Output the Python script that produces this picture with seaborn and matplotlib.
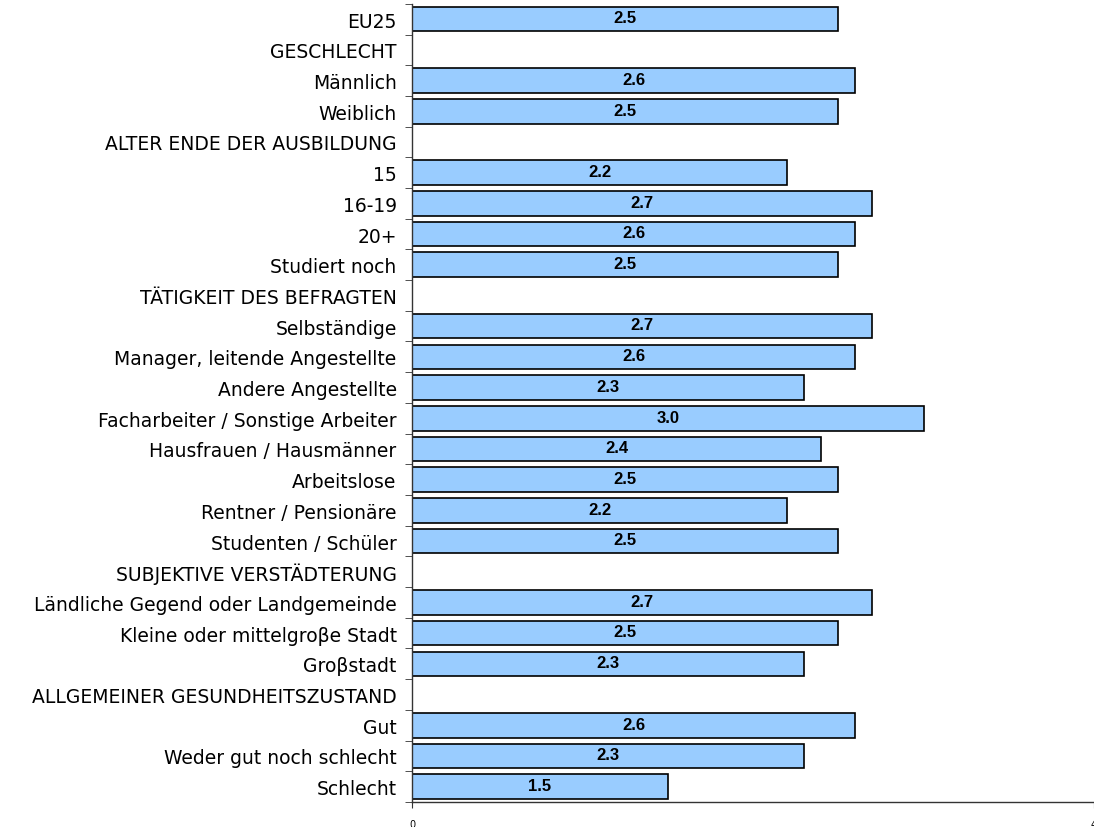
import seaborn as sns
import matplotlib.pyplot as plt
import numpy as np
import pandas as pd

# Kategorien (Überschriften ohne Wert)
kategorien = [
    'EU25', 'GESCHLECHT', 'Männlich', 'Weiblich',
    'ALTER ENDE DER AUSBILDUNG', '15', '16-19', '20+', 'Studiert noch',
    'TÄTIGKEIT DES BEFRAGTEN', 'Selbständige', 'Manager, leitende Angestellte',
    'Andere Angestellte', 'Facharbeiter / Sonstige Arbeiter',
    'Hausfrauen / Hausmänner', 'Arbeitslose', 'Rentner / Pensionäre',
    'Studenten / Schüler', 'SUBJEKTIVE VERSTÄDTERUNG',
    'Ländliche Gegend oder Landgemeinde', 'Kleine oder mittelgroβe Stadt',
    'Groβstadt', 'ALLGEMEINER GESUNDHEITSZUSTAND', 'Gut',
    'Weder gut noch schlecht', 'Schlecht',
]
werte = [
    2.5, np.nan, 2.6, 2.5,
    np.nan, 2.2, 2.7, 2.6, 2.5,
    np.nan, 2.7, 2.6, 2.3, 3.0, 2.4, 2.5, 2.2, 2.5,
    np.nan, 2.7, 2.5, 2.3,
    np.nan, 2.6, 2.3, 1.5,
]

df = pd.DataFrame({'kategorie': kategorien, 'wert': werte})

sns.set_style('white')
plt.rcParams['font.family'] = ['DejaVu Sans']
plt.rcParams['text.color'] = 'black'
plt.rcParams['xtick.color'] = 'black'
plt.rcParams['ytick.color'] = 'black'

fig = plt.figure(figsize=(10.94, 8.28), dpi=100)
ax = fig.add_axes([0.3766, 0.0302, 0.6234, 0.964])

sns.barplot(data=df.dropna(), x='wert', y='kategorie', order=kategorien,
            color='#99CCFF', saturation=1, edgecolor='black', linewidth=1.2,
            width=0.8, ax=ax)

# Werte in die Balken schreiben
for i, w in enumerate(werte):
    if not np.isnan(w):
        ax.text(w / 2, i - 0.04, f'{w:.1f}', ha='center', va='center', color='black',
                fontsize=12, fontweight='bold', family='Liberation Sans')

ax.set_xlim(0, 4)
ax.set_ylim(len(kategorien) - 0.5, -0.5)
ax.set_xticks([0, 4])
ax.set_xticklabels(['0', '4'], fontsize=7)
ax.set_yticks(range(len(kategorien)))
ax.set_yticklabels(kategorien, fontsize=13.5)
ax.set_yticks(np.arange(-0.5, len(kategorien)), minor=True)
ax.tick_params(axis='y', which='major', length=0, pad=11)
ax.tick_params(axis='y', which='minor', length=5, color='#333333', left=True)
ax.tick_params(axis='x', length=4, color='#333333', pad=8, bottom=True)
ax.set_xlabel('')
ax.set_ylabel('')

for s in ['top', 'right']:
    ax.spines[s].set_visible(False)
for s in ['left', 'bottom']:
    ax.spines[s].set_color('#333333')
    ax.spines[s].set_linewidth(1)

fig.savefig('out.png', dpi=100)
